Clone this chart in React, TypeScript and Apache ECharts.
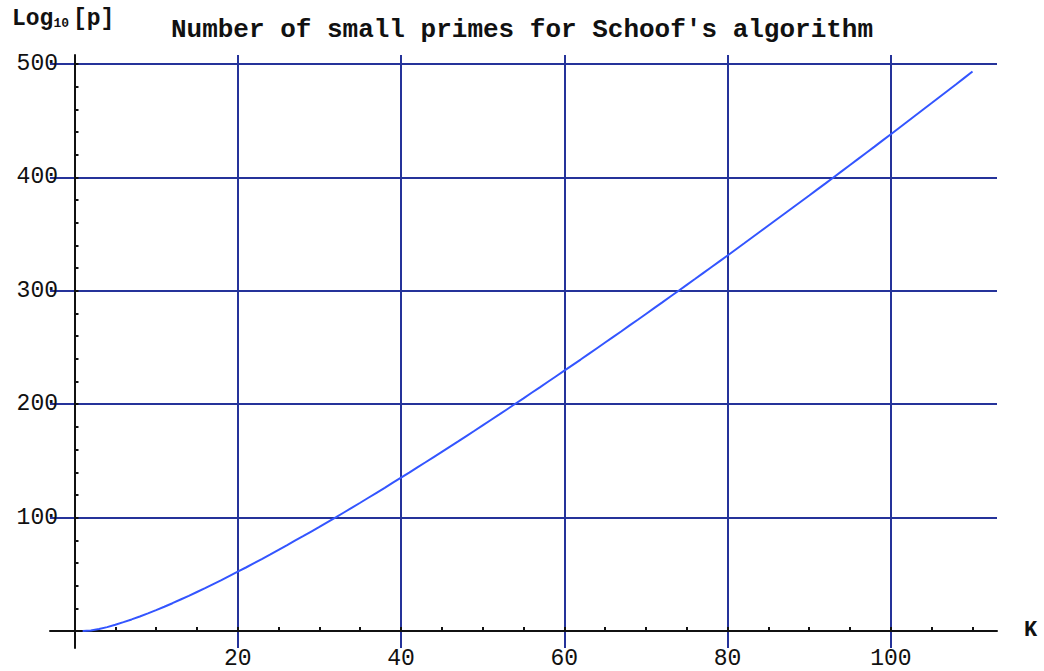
import React, { useEffect, useRef } from "react";
import * as echarts from "echarts";

// K = number of small primes used
const K = [
  1, 2, 3, 4, 5, 6, 7, 8, 9, 10, 11, 12, 13, 14, 15, 16, 17, 18, 19, 20,
  21, 22, 23, 24, 25, 26, 27, 28, 29, 30, 31, 32, 33, 34, 35, 36, 37, 38, 39, 40,
  41, 42, 43, 44, 45, 46, 47, 48, 49, 50, 51, 52, 53, 54, 55, 56, 57, 58, 59, 60,
  61, 62, 63, 64, 65, 66, 67, 68, 69, 70, 71, 72, 73, 74, 75, 76, 77, 78, 79, 80,
  81, 82, 83, 84, 85, 86, 87, 88, 89, 90, 91, 92, 93, 94, 95, 96, 97, 98, 99, 100,
  101, 102, 103, 104, 105, 106, 107, 108, 109, 110,
];

// Log10[p]
const LOG10_P = [
  0, 0.4, 1.8, 3.4, 5.5, 7.8, 10.2, 12.8, 15.5, 18.4,
  21.4, 24.5, 27.8, 31.0, 34.4, 37.8, 41.4, 44.9, 48.6, 52.3,
  56.0, 59.8, 63.6, 67.5, 71.5, 75.5, 79.6, 83.6, 87.7, 91.8,
  96.0, 100.2, 104.5, 108.8, 113.1, 117.5, 121.9, 126.3, 130.8, 135.2,
  139.7, 144.3, 148.8, 153.4, 158.0, 162.6, 167.2, 171.9, 176.6, 181.4,
  186.1, 190.8, 195.6, 200.4, 205.2, 210.1, 214.9, 219.8, 224.7, 229.6,
  234.5, 239.4, 244.4, 249.4, 254.4, 259.4, 264.4, 269.5, 274.5, 279.6,
  284.7, 289.8, 295.0, 300.1, 305.3, 310.4, 315.6, 320.8, 326.0, 331.2,
  336.5, 341.7, 347.0, 352.3, 357.6, 362.9, 368.2, 373.5, 378.8, 384.1,
  389.5, 394.8, 400.2, 405.6, 411.0, 416.4, 421.8, 427.2, 432.7, 438.1,
  443.6, 449.1, 454.6, 460.1, 465.6, 471.2, 476.7, 482.2, 487.8, 493.4,
];

const X_MAJOR = [20, 40, 60, 80, 100];
const X_ALL_TICKS = [
  5, 10, 15, 20, 25, 30, 35, 40, 45, 50, 55, 60, 65, 70, 75, 80, 85, 90, 95, 100, 105, 110,
];
const Y_MAJOR = [100, 200, 300, 400, 500];
const Y_ALL_TICKS = [
  20, 40, 60, 80, 100, 120, 140, 160, 180, 200, 220, 240, 260, 280, 300,
  320, 340, 360, 380, 400, 420, 440, 460, 480, 500,
];

const TITLE = "Number of small primes for Schoof's algorithm";
const X_NAME = "K";

const FONT = "'Liberation Mono', 'DejaVu Sans Mono', monospace";
const GRID_BLUE = "#25339a";
const CURVE_BLUE = "#3355ff";

export default function App() {
  const ref = useRef<HTMLDivElement>(null);

  useEffect(() => {
    document.body.style.margin = "0";
    const chart = echarts.init(ref.current!, undefined, { renderer: "svg" });
    const labelStyle = {
      color: "#111",
      fontFamily: FONT,
      fontSize: 23,
    };
    chart.setOption({
      animation: false,
      backgroundColor: "#ffffff",
      title: [
        {
          text: TITLE,
          left: "center",
          top: 17,
          padding: 0,
          textStyle: {
            fontFamily: FONT,
            fontWeight: "bold",
            fontSize: 26,
            color: "#111",
          },
        },
        {
          text: "Log{s|10}[p]",
          left: 12,
          top: 7,
          padding: 0,
          textStyle: {
            fontFamily: FONT,
            fontWeight: "bold",
            fontSize: 23,
            color: "#111",
            rich: {
              s: {
                fontFamily: FONT,
                fontWeight: "bold",
                fontSize: 13,
                color: "#111",
                padding: [10, 4, 0, 0],
              },
            },
          },
        },
      ],
      grid: {
        left: 50,
        right: 47,
        top: 55,
        bottom: 23,
        containLabel: false,
        outerBoundsMode: "none",
      },
      xAxis: [
        {
          type: "value",
          min: -3,
          max: 113,
          position: "bottom",
          name: X_NAME,
          nameLocation: "end",
          nameGap: 27,
          nameTextStyle: { ...labelStyle, fontWeight: "bold", fontSize: 22 },
          axisLine: { show: true, onZero: true, lineStyle: { color: "#111", width: 2 } },
          axisTick: {
            show: true,
            inside: true,
            length: 4,
            customValues: X_ALL_TICKS,
            lineStyle: { color: "#111", width: 2 },
          },
          axisLabel: { ...labelStyle, margin: -1, customValues: X_MAJOR },
          splitLine: { show: false },
        },
        {
          type: "value",
          min: -3,
          max: 113,
          position: "top",
          axisLine: { show: false, onZero: false },
          axisTick: { show: false, customValues: X_MAJOR },
          axisLabel: { show: false },
          splitLine: { show: true, lineStyle: { color: GRID_BLUE, width: 2 } },
        },
      ],
      yAxis: [
        {
          type: "value",
          min: -15,
          max: 508,
          position: "left",
          axisLine: { show: true, onZero: true, lineStyle: { color: "#111", width: 2 } },
          axisTick: {
            show: true,
            inside: true,
            length: 4,
            customValues: Y_ALL_TICKS,
            lineStyle: { color: "#111", width: 2 },
          },
          axisLabel: { ...labelStyle, margin: -8, customValues: Y_MAJOR },
          splitLine: { show: false },
        },
        {
          type: "value",
          min: -15,
          max: 508,
          position: "right",
          axisLine: { show: false, onZero: false },
          axisTick: { show: false, customValues: Y_MAJOR },
          axisLabel: { show: false },
          splitLine: { show: true, lineStyle: { color: GRID_BLUE, width: 2 } },
        },
      ],
      series: [
        {
          type: "line",
          xAxisIndex: 0,
          yAxisIndex: 0,
          data: K.map((k, i) => [k, LOG10_P[i]]),
          showSymbol: false,
          symbol: "none",
          lineStyle: { color: CURVE_BLUE, width: 2 },
          z: 5,
        },
      ],
    });
    return () => chart.dispose();
  }, []);

  return (
    <div
      ref={ref}
      style={{ position: "absolute", left: 0, top: 0, width: 1044, height: 671 }}
    />
  );
}
